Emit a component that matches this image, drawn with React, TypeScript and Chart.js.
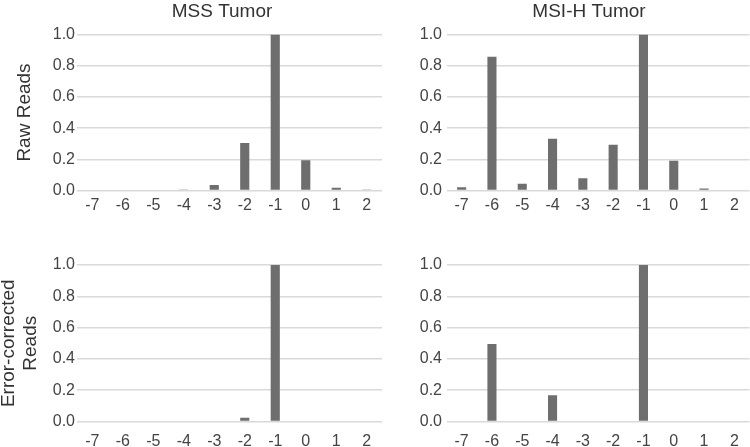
import React, { useEffect, useRef } from "react";
import { Chart, registerables } from "chart.js";

Chart.register(...registerables);

// ---- data ----
const categories = ["-7", "-6", "-5", "-4", "-3", "-2", "-1", "0", "1", "2"];
const mssRaw = [0, 0, 0, 0.004, 0.036, 0.305, 1.0, 0.194, 0.017, 0.003];
const msihRaw = [0.021, 0.857, 0.043, 0.332, 0.079, 0.293, 1.0, 0.19, 0.013, 0];
const mssCorrected = [0, 0, 0, 0, 0, 0.024, 1.0, 0, 0, 0];
const msihCorrected = [0, 0.495, 0, 0.167, 0, 0, 1.0, 0, 0, 0];
const yTickValues = [0, 0.2, 0.4, 0.6, 0.8, 1.0];
const columnTitles = ["MSS Tumor", "MSI-H Tumor"];
const rawTitle = ["Raw Reads"];
const correctedTitle = ["Error-corrected", "Reads"];

const FONT = "'Liberation Sans', Arial, Helvetica, sans-serif";
const BAR_COLOR = "#6e6e6e";
const GRID_COLOR = "#d9d9d9";
const TICK_COLOR = "#444444";
const TITLE_COLOR = "#333333";

const titleShift = {
  id: "titleShift",
  afterLayout(chart: any, _args: any, opts: any) {
    const tb = chart.titleBlock;
    if (tb && opts && opts.dx) {
      tb.left += opts.dx;
      tb.right += opts.dx;
    }
  },
};

type PanelProps = {
  left: number;
  top: number;
  width: number;
  height: number;
  values: number[];
  title?: string;
  titleDx?: number;
  yTitle?: string[];
  yTitlePad?: number;
  yWidth: number;
  padRight: number;
  padTop: number;
  xHeight: number;
  yTickPad: number;
  xTickPad: number;
};

function Panel(p: PanelProps) {
  const ref = useRef<HTMLCanvasElement | null>(null);
  useEffect(() => {
    if (!ref.current) return;
    const chart = new Chart(ref.current, {
      type: "bar",
      data: {
        labels: categories,
        datasets: [
          {
            data: p.values,
            backgroundColor: BAR_COLOR,
            borderWidth: 0,
            barPercentage: 0.3,
            categoryPercentage: 1.0,
          },
        ],
      },
      plugins: [titleShift as any],
      options: {
        responsive: false,
        animation: false,
        layout: { padding: { left: 0, right: p.padRight, top: p.padTop, bottom: 0 } },
        plugins: {
          legend: { display: false },
          tooltip: { enabled: false },
          title: {
            display: !!p.title,
            text: p.title || "",
            fullSize: false,
            color: TITLE_COLOR,
            font: { family: FONT, size: 19, weight: "normal", lineHeight: 1.2 },
            padding: { top: 0, bottom: 11.7 },
          },
          titleShift: { dx: p.titleDx || 0 },
        } as any,
        scales: {
          x: {
            grid: { display: false, drawTicks: false },
            border: { display: false },
            ticks: {
              color: TICK_COLOR,
              font: { family: FONT, size: 16, lineHeight: 1.2 },
              padding: p.xTickPad,
              maxRotation: 0,
              autoSkip: false,
            },
            afterFit: (s: any) => {
              s.height = p.xHeight;
            },
          },
          y: {
            min: 0,
            max: 1,
            grid: { color: GRID_COLOR, lineWidth: 1.5, drawTicks: false },
            border: { display: false },
            afterBuildTicks: (s: any) => {
              s.ticks = yTickValues.map((v) => ({ value: v }));
            },
            ticks: {
              color: TICK_COLOR,
              font: { family: FONT, size: 16, lineHeight: 1.2 },
              padding: p.yTickPad,
              callback: (v: any) => Number(v).toFixed(1),
            },
            title: {
              display: !!p.yTitle,
              text: p.yTitle || "",
              color: TITLE_COLOR,
              font: { family: FONT, size: 19, lineHeight: 1.17 },
              padding: { top: p.yTitlePad || 0, bottom: 0 },
            },
            afterFit: (s: any) => {
              s.width = p.yWidth;
            },
          },
        },
      } as any,
    });
    return () => chart.destroy();
  }, []);
  return (
    <canvas
      ref={ref}
      width={p.width}
      height={p.height}
      style={{ position: "absolute", left: p.left, top: p.top, width: p.width, height: p.height }}
    />
  );
}

export default function App() {
  return (
    <div
      style={{
        position: "fixed",
        left: 0,
        top: 0,
        width: 750,
        height: 447,
        background: "#ffffff",
        overflow: "hidden",
      }}
    >
      <Panel
        left={0}
        top={0}
        width={384}
        height={222}
        values={mssRaw}
        title={columnTitles[0]}
        titleDx={-7.5}
        yTitle={rawTitle}
        yTitlePad={14}
        yWidth={77}
        padRight={2}
        padTop={0}
        xHeight={31.5}
        yTickPad={2}
        xTickPad={5}
      />
      <Panel
        left={384}
        top={0}
        width={366}
        height={222}
        values={msihRaw}
        title={columnTitles[1]}
        titleDx={-9}
        yWidth={62.5}
        padRight={0.5}
        padTop={0}
        xHeight={31.5}
        yTickPad={4.5}
        xTickPad={5}
      />
      <Panel
        left={0}
        top={222}
        width={384}
        height={225}
        values={mssCorrected}
        yTitle={correctedTitle}
        yTitlePad={-2.7}
        yWidth={77}
        padRight={2}
        padTop={43}
        xHeight={25.5}
        yTickPad={2}
        xTickPad={10}
      />
      <Panel
        left={384}
        top={222}
        width={366}
        height={225}
        values={msihCorrected}
        yWidth={62.5}
        padRight={0.5}
        padTop={43}
        xHeight={25.5}
        yTickPad={4.5}
        xTickPad={10}
      />
    </div>
  );
}
